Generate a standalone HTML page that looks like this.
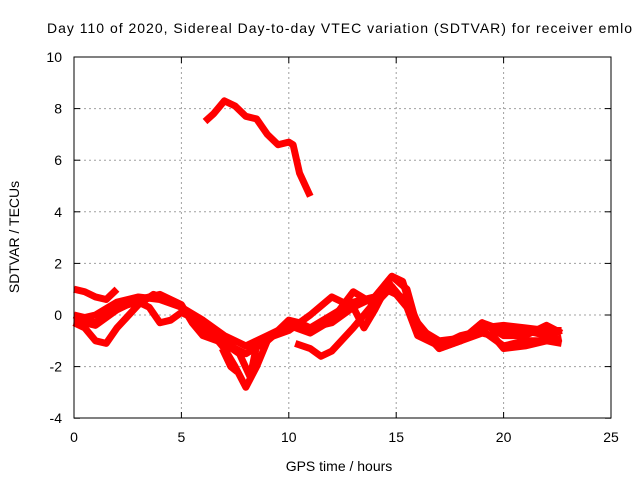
<!DOCTYPE html>
<html><head><meta charset="utf-8"><style>body{margin:0;background:#fff}svg{display:block;font-family:"Liberation Sans",sans-serif}</style></head>
<body>
<svg id="c" width="640" height="480">
<text x="47" y="33" font-size="14" textLength="585" lengthAdjust="spacing">Day 110 of 2020, Sidereal Day-to-day VTEC variation (SDTVAR) for receiver emlo</text>
<text x="339" y="471" font-size="14" text-anchor="middle">GPS time / hours</text>
<text transform="translate(19,237) rotate(-90)" font-size="14" text-anchor="middle">SDTVAR / TECUs</text>
<g id="grid"></g>
<g id="ticks"></g>
<g id="series"></g>
<rect x="74" y="57" width="537" height="361" fill="none" stroke="#000" stroke-width="1"/>
</svg>
<script>
const xTicks=[0,5,10,15,20,25];
const yTicks=[-4,-2,0,2,4,6,8,10];
const trackTop=[[6.1,7.5],[6.5,7.8],[7,8.3],[7.5,8.1],[8,7.7],[8.5,7.6],[9,7.0],[9.5,6.6],[10,6.7],[10.2,6.6],[10.5,5.5],[11,4.6]];
const trackA=[[0,1.0],[0.5,0.9],[1,0.7],[1.5,0.6],[2,1.0]];
const trackB=[[0,0],[0.5,-0.1],[1,0],[2,0.5],[3,0.7],[4,0.6],[5,0.3],[6,-0.6],[7,-1.0],[7.5,-1.3],[8,-1.5],[9,-1.0],[10,-0.3],[11,-0.5],[12,0],[13,0.5],[14,0.7],[14.8,1.5],[15.5,1.0],[16,-0.5],[17,-1.0],[18,-0.9],[19,-0.5],[20,-0.4],[21,-0.5],[22,-0.6],[22.7,-0.6]];
const trackC=[[0,-0.3],[0.5,-0.5],[1,-1.0],[1.5,-1.1],[2,-0.5],[3,0.4],[3.7,0.8],[4.5,0.5],[5,0.3],[6,-0.2],[7,-0.8],[8,-1.2],[9,-0.8],[10,-0.4],[11,-0.7],[12,-0.2],[13,0.9],[14,0.4],[14.8,1.1],[15.5,0.4],[16,-0.4],[17,-1.3],[18,-1.0],[19,-0.3],[20,-0.8],[21,-0.8],[22,-0.4],[22.7,-0.7]];
const trackD=[[0,0],[1,-0.3],[2,0.3],[3,0.5],[3.5,0.3],[4,-0.3],[4.5,-0.2],[5,0.1],[6,-0.3],[7,-1.3],[7.5,-2.0],[8,-2.8],[8.5,-2.0],[9,-1.0],[10,-0.2],[10.5,-0.3],[11,-0.5],[12,-0.3],[13,0.3],[13.5,-0.5],[14,0.2],[14.5,1.0],[15,0.8],[15.5,0.3],[16,-0.8],[17,-1.2],[18,-0.8],[19,-0.6],[20,-1.2],[21,-1.0],[22,-1.0],[22.7,-0.9]];
const trackE=[[10.3,-1.1],[11,-1.3],[11.5,-1.6],[12,-1.4],[13,-0.5],[13.5,0],[14,0.5],[14.7,1.2],[15,0.8],[15.5,0.6],[16,-0.3],[16.5,-0.8],[17,-1.3],[18,-1.0],[19,-0.7],[19.5,-0.8],[20,-1.3],[21,-1.2],[22,-1.0],[22.7,-1.1]];
const trackF=[[0,-0.2],[1,-0.4],[2,0.2],[3,0.6],[4,0.8],[5,0.4],[5.5,-0.3],[6,-0.8],[7,-1.1],[7.7,-1.5],[8.2,-2.4],[8.5,-1.2],[9,-0.9],[10,-0.6],[11,0],[12,0.7],[13,0.3],[14,0.7],[14.8,1.5],[15.3,1.3],[15.6,0.5],[16,-0.6],[17,-1.1],[18,-1.0],[19,-0.3],[20,-0.6],[21,-0.6],[22,-0.8],[22.7,-0.6]];
const trackG=[[6.9,-1.3],[7.3,-2.0],[7.6,-2.2]];
const tracks=[trackTop,trackA,trackB,trackC,trackD,trackE,trackF,trackG];
const X=v=>74+v*(537/25), Y=v=>315-v*25.8;
const NS="http://www.w3.org/2000/svg";
const grid=document.getElementById('grid'),ticks=document.getElementById('ticks'),ser=document.getElementById('series');
function mk(tag,at,p){const e=document.createElementNS(NS,tag);for(const k in at)e.setAttribute(k,at[k]);p.appendChild(e);return e;}
xTicks.forEach(t=>{const x=X(t);
 if(t>0&&t<25){const g=mk('line',{x1:x,x2:x,y1:57,y2:418,stroke:'#a0a0a0','stroke-dasharray':'2,3'},grid);
 
 }
 mk('line',{x1:x,x2:x,y1:418,y2:412,stroke:'#000'},ticks);mk('line',{x1:x,x2:x,y1:57,y2:63,stroke:'#000'},ticks);
 const l=mk('text',{x:x,y:442,'font-size':14,'text-anchor':'middle'},ticks);l.textContent=t;
 
 });
yTicks.forEach(t=>{const y=Y(t);
 if(t>-4&&t<10){const g=mk('line',{x1:74,x2:611,y1:y,y2:y,stroke:'#a0a0a0','stroke-dasharray':'2,3'},grid);
 
 }
 mk('line',{x1:74,x2:80,y1:y,y2:y,stroke:'#000'},ticks);mk('line',{x1:611,x2:605,y1:y,y2:y,stroke:'#000'},ticks);
 const l=mk('text',{x:62,y:y+5,'font-size':14,'text-anchor':'end'},ticks);l.textContent=t;
 
 });
tracks.forEach(tr=>{const p=mk('polyline',{points:tr.map(d=>X(d[0])+','+Y(d[1])).join(' '),fill:'none',stroke:'#ff0000','stroke-width':7,'stroke-linejoin':'round','stroke-linecap':'butt'},ser);
 
 });
</script>
</body></html>
